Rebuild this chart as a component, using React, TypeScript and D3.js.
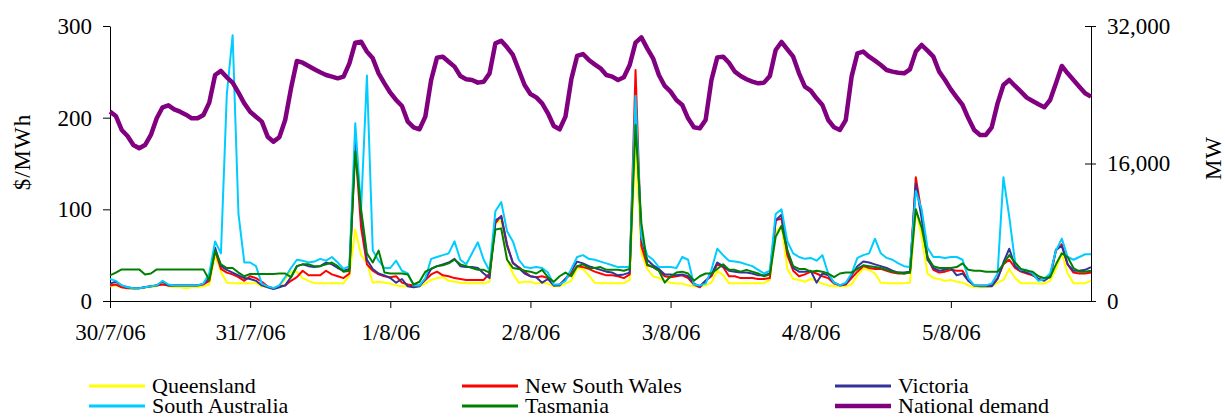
import React, { useRef, useEffect } from "react";
import * as d3 from "d3";

const dayLabels = ["30/7/06", "31/7/06", "1/8/06", "2/8/06", "3/8/06", "4/8/06", "5/8/06"];
const priceTicks = [0, 100, 200, 300];
const demandTicks = [0, 16000, 32000];

// hourly spot prices ($/MWh), 30/7/06 00:00 .. 6/8/06 00:00
const queensland = [
  16, 17, 15, 14, 13, 14, 15, 15, 16, 20, 16, 15, 15, 14, 15, 15, 16, 18, 50, 32, 20, 19.5, 19.5, 19.5,
  19.5, 19.5, 16, 15, 14, 15, 24, 32, 32, 25, 22, 19.5, 19.5, 19.5, 19.5, 19.5, 19.5, 28, 78, 50, 42, 20, 21, 20,
  19, 17, 16, 16, 15, 16, 19, 23, 25, 26, 22, 21, 20, 19.5, 19.5, 19.5, 19.5, 21, 85, 88, 45, 30, 20, 21,
  21, 19, 20, 19, 16, 16, 19, 22, 36, 35, 28, 20, 19.5, 19.5, 19.5, 19.5, 19.5, 23, 170, 52, 35, 27, 25, 22,
  20, 19, 19, 17, 16, 16, 17, 20, 33, 28, 19.5, 19.5, 19.5, 19.5, 19.5, 19.5, 19.5, 23, 75, 82, 35, 24, 23, 21,
  24, 22, 19, 17, 16, 16, 16, 18, 28, 35, 34, 30, 20, 19.5, 19.5, 19.5, 19.5, 20, 100, 70, 30, 25, 24, 22,
  23, 21, 20, 17, 15, 15, 15, 16, 20, 23, 35, 25, 19.5, 19.5, 19.5, 19, 19, 22, 35, 52, 30, 19.5, 19.5, 19.5, 22,
];
const newSouthWales = [
  17, 18, 15, 14, 14, 14, 15, 16, 17, 18, 17, 17, 17, 17, 17, 17, 18, 22, 55, 35, 31, 29, 26, 22,
  27, 25, 21, 16, 14, 16, 17, 22, 26, 33, 28, 28, 28, 33, 29, 27, 25, 30, 168, 80, 40, 33, 29, 27,
  26, 27, 20, 18, 17, 17, 23, 29, 32, 28, 27, 25, 24, 23, 23, 23, 23, 30, 85, 93, 62, 41, 37, 32,
  27, 26, 27, 25, 17, 18, 24, 30, 38, 37, 35, 32, 30, 28, 28, 27, 25, 29, 252, 60, 39, 37, 33, 27,
  26, 27, 28, 25, 18, 15, 22, 27, 40, 37, 27, 27, 25, 25, 25, 24, 24, 25, 88, 90, 50, 33, 27, 29,
  32, 30, 27, 25, 19, 17, 18, 25, 32, 38, 36, 35, 35, 33, 31, 30, 30, 31, 135, 95, 48, 34, 31, 32,
  34, 33, 33, 22, 17, 17, 17, 17, 25, 40, 45, 36, 32, 30, 28, 24, 23, 26, 55, 62, 40, 31, 30, 30, 31,
];
const victoria = [
  19, 21, 17, 15, 14, 14, 15, 16, 17, 21, 17, 17, 17, 17, 17, 17, 19, 25, 58, 38, 34, 31, 28, 25,
  24, 22, 17, 15, 13, 15, 17, 26, 38, 40, 38, 37, 38, 42, 40, 36, 33, 35, 175, 95, 45, 35, 30, 28,
  25, 20, 24, 16, 15, 16, 24, 35, 38, 40, 42, 46, 38, 37, 37, 36, 30, 25, 88, 92, 60, 42, 36, 30,
  27, 26, 20, 24, 17, 17, 24, 33, 43, 41, 38, 36, 34, 32, 31, 28, 29, 31, 215, 68, 45, 39, 35, 29,
  29, 28, 29, 27, 19, 16, 22, 29, 42, 38, 33, 32, 31, 31, 30, 28, 28, 30, 88, 94, 55, 36, 32, 32,
  33, 20, 30, 28, 20, 17, 19, 28, 38, 43, 42, 40, 38, 36, 33, 31, 31, 32, 128, 90, 45, 36, 33, 34,
  36, 28, 30, 22, 17, 16, 16, 16, 24, 42, 57, 38, 33, 31, 29, 24, 22, 27, 56, 60, 40, 33, 33, 34, 37,
];
const southAustralia = [
  24, 22, 17, 15, 14, 14, 15, 16, 17, 22, 18, 17, 17, 17, 17, 17, 19, 30, 65, 52, 225, 290, 95, 42,
  42, 38, 19, 16, 14, 17, 26, 36, 45, 44, 42, 43, 46, 44, 48, 42, 35, 38, 194, 100, 246, 55, 44, 36,
  36, 44, 33, 30, 17, 17, 25, 46, 48, 50, 52, 65, 45, 40, 52, 64, 45, 33, 98, 108, 76, 65, 45, 37,
  36, 37, 36, 31, 18, 18, 22, 35, 48, 50, 46, 45, 43, 41, 39, 37, 37, 37, 224, 70, 50, 45, 37, 37,
  37, 36, 48, 45, 18, 17, 19, 34, 57, 50, 44, 43, 42, 40, 38, 34, 30, 33, 95, 100, 65, 52, 48, 46,
  47, 44, 50, 30, 20, 17, 20, 30, 47, 50, 52, 68, 52, 47, 45, 41, 38, 37, 120, 100, 58, 48, 48, 47,
  48, 48, 45, 25, 17, 17, 17, 19, 30, 135, 92, 42, 34, 34, 30, 22, 24, 30, 55, 68, 48, 45, 48, 51, 51,
];
const tasmania = [
  28, 31, 34.5, 34.5, 34.5, 34.5, 29, 30, 34.5, 34.5, 34.5, 34.5, 34.5, 34.5, 34.5, 34.5, 34.5, 23, 55, 40, 36, 36, 31, 27,
  29.5, 29.5, 29.5, 29.5, 29.5, 30, 30, 26, 38, 40, 40, 38, 38, 40, 42, 38, 32, 33, 163, 100, 52, 42, 55, 31,
  30, 30, 30, 29, 18, 21, 32, 35, 38, 39, 41, 45, 40, 38, 36, 34, 34, 31, 78, 79, 45, 36, 35, 33,
  32, 30, 34, 26, 21, 27, 31, 27, 38, 40, 36, 36, 37, 34, 34, 34, 33, 35, 192, 85, 40, 37, 33, 20,
  27, 31, 32, 30, 22, 27, 30, 30, 35, 40, 34, 34, 32, 34, 32, 30, 27, 29, 70, 82, 55, 38, 35, 35,
  32, 33, 32, 30, 26, 30, 31, 31, 35, 39, 38, 37, 36, 34, 32, 31, 30, 31, 100, 80, 48, 38, 36, 36,
  36, 37, 41, 34, 33, 33, 32, 32, 32, 40, 50, 42, 35, 33, 32, 27, 25, 26, 40, 52, 48, 36, 32, 32, 33,
];
// national demand (MW), same hours
const nationalDemand = [
  22030, 21530, 19900, 19200, 18150, 17770, 18150, 19320, 21260, 22540, 22770, 22300, 22030, 21680, 21260, 21260, 21650, 23080, 26300, 26770, 26030, 25410, 24240, 23000,
  22030, 21450, 20870, 19120, 18540, 19050, 21060, 24750, 27930, 27730, 27350, 26960, 26610, 26300, 26110, 25910, 26110, 27660, 30060, 30180, 29020, 28240, 26490, 25330,
  24240, 23390, 22690, 20870, 20210, 19980, 21450, 25720, 28320, 28430, 27850, 27270, 26180, 25800, 25720, 25410, 25520, 26490, 29980, 30290, 29520, 28630, 26880, 25140,
  24090, 23700, 23000, 21840, 20360, 19980, 21450, 25800, 28510, 28740, 28050, 27540, 27080, 26300, 26110, 25720, 26030, 27460, 30060, 30680, 29400, 28240, 26300, 25020,
  24360, 23390, 22810, 21260, 20210, 20090, 21060, 25720, 28350, 28430, 27730, 26690, 26180, 25800, 25520, 25330, 25410, 26180, 29210, 30140, 29290, 28430, 26490, 24940,
  24480, 23580, 22810, 21060, 20210, 19900, 21060, 26110, 28820, 29020, 28430, 27970, 27460, 26880, 26690, 26570, 26490, 26960, 29020, 29790, 29130, 28430, 26690, 25720,
  24630, 23700, 22810, 21260, 19900, 19320, 19320, 20210, 23000, 25140, 25720, 25020, 24360, 23660, 23270, 22890, 22540, 23390, 25330, 27350, 26490, 25720, 24940, 24170, 23780,
];

const priceSeries = [
  { name: "Queensland", color: "#ffff00", values: queensland },
  { name: "New South Wales", color: "#ff0000", values: newSouthWales },
  { name: "Victoria", color: "#333399", values: victoria },
  { name: "South Australia", color: "#00ccff", values: southAustralia },
  { name: "Tasmania", color: "#008000", values: tasmania },
];

const FONT = "'Liberation Serif', 'Times New Roman', serif";

export default function App() {
  const ref = useRef<SVGSVGElement>(null);

  useEffect(() => {
    const svg = d3.select(ref.current);
    svg.selectAll("*").remove();

    const left = 110, right = 1091, top = 26, bottom = 301;
    const x = d3.scaleLinear().domain([0, 168]).range([left, right]);
    const yPrice = d3.scaleLinear().domain([0, 300]).range([bottom, top]);
    const yDemand = d3.scaleLinear().domain([0, 32000]).range([bottom, top]);

    // axes
    const xAxis = svg.append("g")
      .attr("transform", `translate(0,${bottom})`)
      .call(
        d3.axisBottom(x)
          .tickValues(dayLabels.map((_, i) => i * 24))
          .tickFormat((_, i) => dayLabels[i])
          .tickSize(7)
          .tickSizeOuter(0)
          .tickPadding(16)
      );

    const yAxisL = svg.append("g")
      .attr("transform", `translate(${left},0)`)
      .call(d3.axisLeft(yPrice).tickValues(priceTicks).tickSize(7).tickSizeOuter(0).tickPadding(11));

    const yAxisR = svg.append("g")
      .attr("transform", `translate(${right},0)`)
      .call(
        d3.axisRight(yDemand)
          .tickValues(demandTicks)
          .tickFormat(d3.format(","))
          .tickSize(5)
          .tickSizeOuter(0)
          .tickPadding(11)
      );
    yAxisR.selectAll(".tick line").attr("x1", -6);

    [xAxis, yAxisL, yAxisR].forEach(a => {
      a.select(".domain").attr("stroke", "#000");
      a.selectAll(".tick line").attr("stroke", "#000");
      a.selectAll("text")
        .attr("font-family", FONT)
        .attr("font-size", 23)
        .attr("fill", "#000");
    });

    // price lines
    const priceLine = d3.line<number>()
      .x((_, i) => x(i))
      .y(d => yPrice(d));

    priceSeries.forEach(s => {
      svg.append("path")
        .datum(s.values)
        .attr("d", priceLine)
        .attr("fill", "none")
        .attr("stroke", s.color)
        .attr("stroke-width", 2)
        .attr("stroke-linejoin", "round");
    });

    // demand line on the secondary axis
    const demandLine = d3.line<number>()
      .x((_, i) => x(i))
      .y(d => yDemand(d));

    svg.append("path")
      .datum(nationalDemand)
      .attr("d", demandLine)
      .attr("fill", "none")
      .attr("stroke", "#800080")
      .attr("stroke-width", 4.5)
      .attr("stroke-linejoin", "round");

    // axis titles
    svg.append("text")
      .attr("transform", "translate(30,152) rotate(-90)")
      .attr("text-anchor", "middle")
      .attr("font-family", FONT)
      .attr("font-size", 23)
      .attr("letter-spacing", 1)
      .text("$/MWh");

    svg.append("text")
      .attr("transform", "translate(1221,158) rotate(-90)")
      .attr("text-anchor", "middle")
      .attr("font-family", FONT)
      .attr("font-size", 23)
      .attr("letter-spacing", 1)
      .text("MW");

    // legend
    const legendItems = [
      ...priceSeries.map(s => ({ name: s.name, color: s.color, width: 3 })),
      { name: "National demand", color: "#800080", width: 4.5 },
    ];
    const colX = [89, 462, 835];
    const rowY = [386, 406];
    legendItems.forEach((item, i) => {
      const g = svg.append("g")
        .attr("transform", `translate(${colX[i % 3]},${rowY[Math.floor(i / 3)]})`);
      g.append("line")
        .attr("x1", 0).attr("x2", 56)
        .attr("stroke", item.color)
        .attr("stroke-width", item.width);
      g.append("text")
        .attr("x", 63)
        .attr("y", 7)
        .attr("font-family", FONT)
        .attr("font-size", 22)
        .text(item.name);
    });
  }, []);

  return (
    <svg
      ref={ref}
      width={1225}
      height={418}
      style={{ position: "absolute", left: 0, top: 0, background: "#fff" }}
    />
  );
}
